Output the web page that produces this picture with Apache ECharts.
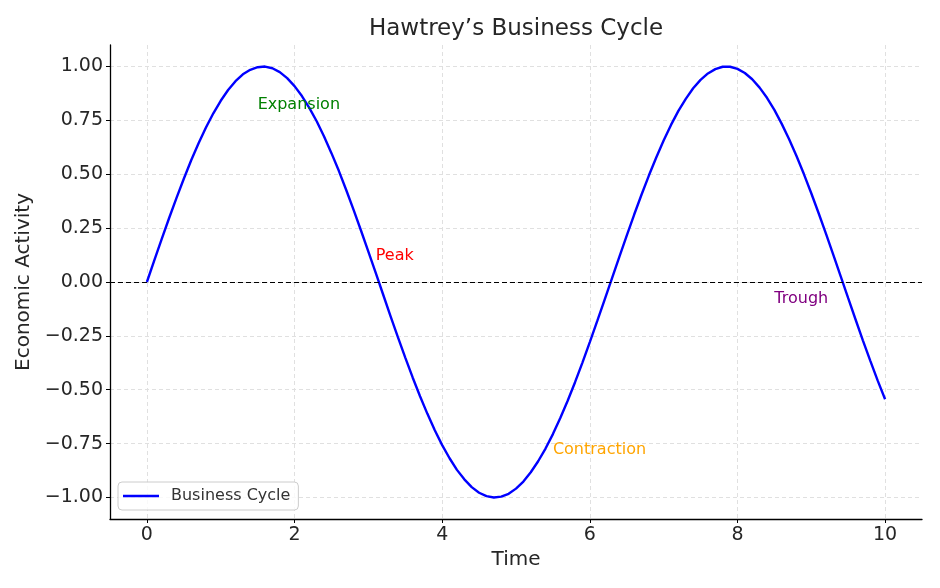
<!DOCTYPE html>
<html>
<head>
<meta charset="utf-8">
<script src="https://cdn.jsdelivr.net/npm/echarts@6/dist/echarts.min.js"></script>
<style>html,body{margin:0;padding:0;background:#fff}#c{width:940px;height:588px}</style>
</head>
<body>
<div id="c"></div>
<script>
// Data
const timeValues = [0,0.1,0.2,0.3,0.4,0.5,0.6,0.7,0.8,0.9,1.0,1.1,1.2,1.3,1.4,1.5,1.6,1.7,1.8,1.9,2.0,2.1,2.2,2.3,2.4,2.5,2.6,2.7,2.8,2.9,3.0,3.1,3.2,3.3,3.4,3.5,3.6,3.7,3.8,3.9,4.0,4.1,4.2,4.3,4.4,4.5,4.6,4.7,4.8,4.9,5.0,5.1,5.2,5.3,5.4,5.5,5.6,5.7,5.8,5.9,6.0,6.1,6.2,6.3,6.4,6.5,6.6,6.7,6.8,6.9,7.0,7.1,7.2,7.3,7.4,7.5,7.6,7.7,7.8,7.9,8.0,8.1,8.2,8.3,8.4,8.5,8.6,8.7,8.8,8.9,9.0,9.1,9.2,9.3,9.4,9.5,9.6,9.7,9.8,9.9,10.0];
const activityValues = [0,0.100,0.199,0.296,0.389,0.479,0.565,0.644,0.717,0.783,0.841,0.891,0.932,0.964,0.985,0.997,1.000,0.992,0.974,0.946,0.909,0.863,0.808,0.746,0.675,0.598,0.516,0.427,0.335,0.239,0.141,0.042,-0.058,-0.158,-0.256,-0.351,-0.443,-0.530,-0.612,-0.688,-0.757,-0.818,-0.872,-0.916,-0.952,-0.978,-0.994,-1.000,-0.996,-0.983,-0.959,-0.926,-0.883,-0.832,-0.773,-0.706,-0.631,-0.551,-0.465,-0.374,-0.279,-0.182,-0.083,0.017,0.117,0.215,0.312,0.405,0.494,0.578,0.657,0.729,0.794,0.850,0.899,0.938,0.968,0.988,0.999,0.999,0.989,0.970,0.941,0.902,0.855,0.799,0.734,0.663,0.585,0.501,0.412,0.319,0.223,0.125,0.025,-0.075,-0.174,-0.272,-0.366,-0.458,-0.544];
const xTicks = [0,2,4,6,8,10];
const yTicks = [-1,-0.75,-0.5,-0.25,0,0.25,0.5,0.75,1];
const annotationLabels = ['Expansion','Peak','Contraction','Trough'];
const annotationX = [1.5,3.1,5.5,8.5];
const annotationY = [0.8,0.1,-0.8,-0.1];
const annotationColors = ['#008000','#ff0000','#ffa500','#800080'];

const FONT = 'DejaVu Sans';
const chart = echarts.init(document.getElementById('c'));
const lineData = timeValues.map((t,i)=>[t, activityValues[i]]);
const annData = annotationLabels.map((l,i)=>({
  value:[annotationX[i], annotationY[i]],
  label:{formatter:l, color:annotationColors[i]}
}));
chart.setOption({
  animation:false,
  textStyle:{fontFamily:FONT},
  title:{text:'Hawtrey\u2019s Business Cycle', left:511, top:13, textAlign:'center',
    textStyle:{fontFamily:FONT, fontSize:23, fontWeight:'normal', color:'#262626'}},
  grid:{left:110, right:18, top:45, bottom:69},
  legend:{data:['Business Cycle'], left:118, top:482, orient:'vertical',
    icon:'rect', itemWidth:36, itemHeight:2.5, itemGap:4,
    padding:[6,8,6,5], borderColor:'#cccccc', borderWidth:1, borderRadius:4,
    backgroundColor:'rgba(255,255,255,0.8)',
    textStyle:{fontFamily:FONT, fontSize:16, color:'#333', padding:[0,0,0,7]}},
  xAxis:{type:'value', min:-0.5, max:10.5,
    name:'Time', nameLocation:'middle', nameGap:30,
    nameTextStyle:{fontFamily:FONT, fontSize:20, color:'#262626'},
    axisLine:{onZero:false, lineStyle:{color:'#000', width:1.3}},
    axisTick:{show:true, length:4, inside:false, customValues:xTicks, lineStyle:{color:'#000'}},
    axisLabel:{customValues:xTicks, fontFamily:FONT, fontSize:19, color:'#262626', margin:7},
    splitLine:{show:true, lineStyle:{color:'#e0e0e0', type:[4,3], width:1}}
  },
  yAxis:{type:'value', min:-1.1, max:1.1,
    name:'Economic Activity', nameLocation:'middle', nameGap:74, nameRotate:90,
    nameTextStyle:{fontFamily:FONT, fontSize:20, color:'#262626'},
    axisLine:{show:true, onZero:false, lineStyle:{color:'#000', width:1.3}},
    axisTick:{show:true, length:4, inside:false, customValues:yTicks, lineStyle:{color:'#000'}},
    axisLabel:{customValues:yTicks, fontFamily:FONT, fontSize:19, color:'#262626', margin:7,
      formatter:v=>(v<0?'\u2212':'')+Math.abs(v).toFixed(2)},
    splitLine:{show:true, lineStyle:{color:'#e0e0e0', type:[4,3], width:1}}
  },
  series:[
    {name:'Business Cycle', type:'line', data:lineData, smooth:false, symbol:'none',
      lineStyle:{color:'#0000ff', width:2.4}, itemStyle:{color:'#0000ff'}, z:3,
      markLine:{silent:true, symbol:'none', label:{show:false},
        lineStyle:{color:'#000', type:[5,3], width:1.2},
        data:[{yAxis:0}]}
    },
    {name:'annotations', type:'scatter', data:annData, symbolSize:0, z:4,
      itemStyle:{opacity:1},
      label:{show:true, position:[0,3], align:'left', verticalAlign:'bottom',
        fontFamily:FONT, fontSize:16}}
  ]
});
</script>
</body>
</html>
